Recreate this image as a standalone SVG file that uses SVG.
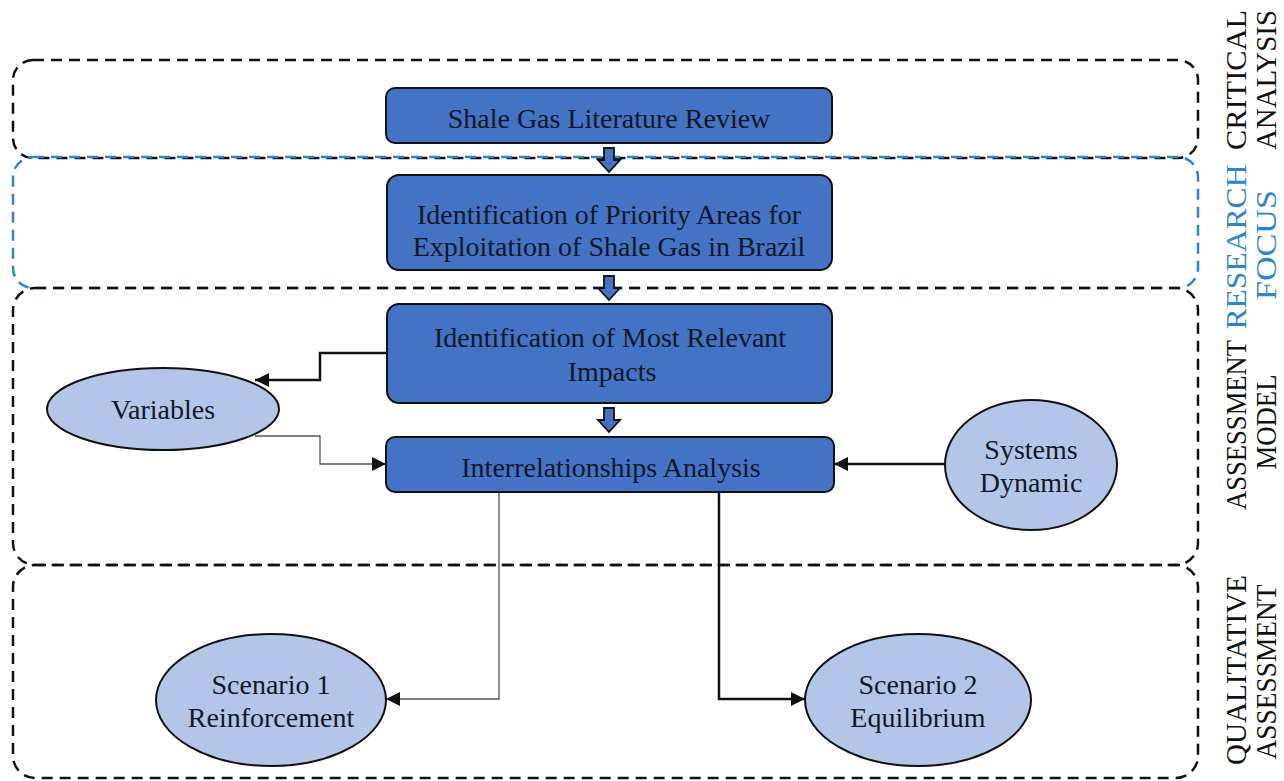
<svg xmlns="http://www.w3.org/2000/svg" width="1284" height="781" viewBox="0 0 1284 781">
<style>
.zone{fill:none;stroke:#111;stroke-width:2.5;stroke-dasharray:11 7}
.zone.blue{stroke:#2E86C8}
.box{fill:#4472C4;stroke:#111;stroke-width:2}
.ell{fill:#B4C6E7;stroke:#111;stroke-width:2}
.t{font-family:"Liberation Serif","Times New Roman",serif;font-size:28px;fill:#111827;text-anchor:middle}
.lab{font-family:"Liberation Serif","Times New Roman",serif;font-size:29px;fill:#111;text-anchor:middle}
.lab.blue{fill:#2E86C8}
.c{fill:none;stroke:#111;stroke-width:2.5}
.thin{fill:none;stroke:#555;stroke-width:1.3}
.blk{fill:#4472C4;stroke:#111;stroke-width:1.8}
</style>
<defs>
<marker id="ah" viewBox="0 0 10 10" refX="10" refY="5" markerWidth="14" markerHeight="14" markerUnits="userSpaceOnUse" orient="auto">
<path d="M0,0 L10,5 L0,10 z" fill="#111"/>
</marker>
</defs>
<rect width="1284" height="781" fill="#fff"/>
<g id="zones">
<rect class="zone" x="13" y="60" width="1185" height="98" rx="20"/>
<rect class="zone blue" x="13" y="157" width="1185" height="131" rx="20"/>
<rect class="zone" x="13" y="288" width="1185" height="277" rx="22"/>
<rect class="zone" x="13" y="565" width="1185" height="213" rx="22"/>
</g>
<g id="zone-labels">
<text class="lab" transform="translate(1246,80) rotate(-90)" textLength="140" lengthAdjust="spacingAndGlyphs">CRITICAL</text>
<text class="lab" transform="translate(1276,80) rotate(-90)" textLength="140" lengthAdjust="spacingAndGlyphs">ANALYSIS</text>
<text class="lab blue" transform="translate(1246,247) rotate(-90)" textLength="165" lengthAdjust="spacingAndGlyphs">RESEARCH</text>
<text class="lab blue" transform="translate(1276,245) rotate(-90)" textLength="110" lengthAdjust="spacingAndGlyphs">FOCUS</text>
<text class="lab" transform="translate(1246,425) rotate(-90)" textLength="170" lengthAdjust="spacingAndGlyphs">ASSESSMENT</text>
<text class="lab" transform="translate(1276,422) rotate(-90)" textLength="95" lengthAdjust="spacingAndGlyphs">MODEL</text>
<text class="lab" transform="translate(1246,670) rotate(-90)" textLength="190" lengthAdjust="spacingAndGlyphs">QUALITATIVE</text>
<text class="lab" transform="translate(1276,672) rotate(-90)" textLength="175" lengthAdjust="spacingAndGlyphs">ASSESSMENT</text>
</g>
<g id="connectors">
<path class="blk" d="M604,148 H614 V160 H620 L609,172 L598,160 H604 Z"/>
<path class="blk" d="M604,276 H614 V288 H620 L609,300 L598,288 H604 Z"/>
<path class="blk" d="M604,408 H614 V420 H620 L609,432 L598,420 H604 Z"/>
<path class="c" d="M387,353 H320 V380 H255" marker-end="url(#ah)"/>
<path class="thin" d="M255,436 H320 V464 H386" marker-end="url(#ah)"/>
<path class="c" d="M945,464 H834" marker-end="url(#ah)"/>
<path class="thin" d="M499,492 V699 H386" marker-end="url(#ah)"/>
<path class="c" d="M719,492 V699 H805" marker-end="url(#ah)"/>
</g>
<g id="n-review">
<rect class="box" x="386" y="88" width="446" height="55" rx="9"/>
<text class="t" x="609" y="128">Shale Gas Literature Review</text>
</g>
<g id="n-priority">
<rect class="box" x="387" y="175" width="445" height="95" rx="12"/>
<text class="t" x="609" y="224">Identification of Priority Areas for</text>
<text class="t" x="609" y="256">Exploitation of Shale Gas in Brazil</text>
</g>
<g id="n-impacts">
<rect class="box" x="387" y="304" width="445" height="99" rx="12"/>
<text class="t" x="610" y="347">Identification of Most Relevant</text>
<text class="t" x="612" y="381">Impacts</text>
</g>
<g id="n-interrel">
<rect class="box" x="386" y="437" width="448" height="55" rx="9"/>
<text class="t" x="611" y="477">Interrelationships Analysis</text>
</g>
<g id="n-variables">
<ellipse class="ell" cx="163" cy="409" rx="116" ry="41"/>
<text class="t" x="163" y="419">Variables</text>
</g>
<g id="n-systems">
<ellipse class="ell" cx="1031" cy="465" rx="86" ry="65"/>
<text class="t" x="1031" y="459">Systems</text>
<text class="t" x="1031" y="492">Dynamic</text>
</g>
<g id="n-scenario1">
<ellipse class="ell" cx="271" cy="700" rx="115" ry="66"/>
<text class="t" x="271" y="694">Scenario 1</text>
<text class="t" x="271" y="727">Reinforcement</text>
</g>
<g id="n-scenario2">
<ellipse class="ell" cx="918" cy="700" rx="113" ry="66"/>
<text class="t" x="918" y="694">Scenario 2</text>
<text class="t" x="918" y="727">Equilibrium</text>
</g>
</svg>
